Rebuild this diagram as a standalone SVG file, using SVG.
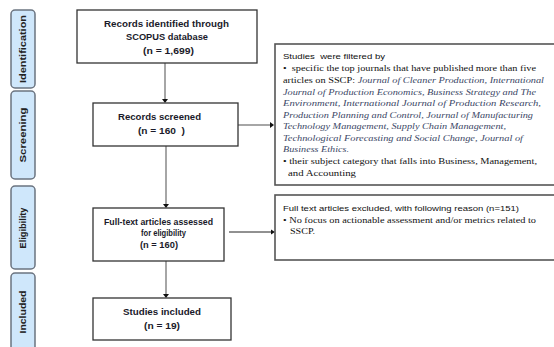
<svg xmlns="http://www.w3.org/2000/svg" width="554" height="347" viewBox="0 0 554 347">
<defs>
<style>
.bar{fill:#cfe7fb;stroke:#6b7480;stroke-width:1.5}
.bl{font-family:"Liberation Sans",Arial,sans-serif;font-weight:bold;font-size:8.5px;fill:#222;text-anchor:middle}
.box{fill:#fff;stroke:#333;stroke-width:1.3}
.rbox{fill:#fff;stroke:#555;stroke-width:1.6}
.t{font-family:"Liberation Sans",Arial,sans-serif;font-weight:bold;font-size:8.5px;fill:#1a1a2a;text-anchor:middle}
.s{font-family:"Liberation Serif","Times New Roman",serif;font-size:8.5px;fill:#111}
.i{font-style:italic;fill:#3b4766}
.ss{font-family:"Liberation Sans",Arial,sans-serif;font-size:7.5px;fill:#111}
.g{stroke:#a6a6a6;stroke-width:2;fill:none}
.k{stroke:#222;stroke-width:1;fill:none}
</style>
</defs>

<g id="phase-identification"><rect class="bar" x="11" y="10" width="24" height="78" rx="4"/><text class="bl" transform="translate(26,49) rotate(-90)" textLength="68" lengthAdjust="spacingAndGlyphs">Identification</text></g>
<g id="phase-screening"><rect class="bar" x="11" y="91" width="24" height="88" rx="4"/><text class="bl" transform="translate(26,135) rotate(-90)" textLength="55" lengthAdjust="spacingAndGlyphs">Screening</text></g>
<g id="phase-eligibility"><rect class="bar" x="11" y="186" width="24" height="83" rx="4"/><text class="bl" transform="translate(26,228) rotate(-90)" textLength="41" lengthAdjust="spacingAndGlyphs">Eligibility</text></g>
<g id="phase-included"><rect class="bar" x="11" y="273" width="24" height="80" rx="4"/><text class="bl" transform="translate(26,312) rotate(-90)" textLength="43" lengthAdjust="spacingAndGlyphs">Included</text></g>

<g id="connectors">
<line class="g" x1="165" y1="63" x2="165" y2="99"/><path d="M162,99L168,99L165,103z" fill="#111"/>
<line class="g" x1="166" y1="146" x2="166" y2="204"/><path d="M163,204L169,204L166,208z" fill="#111"/>
<line class="g" x1="166" y1="261" x2="166" y2="294"/><path d="M163,294L169,294L166,298z" fill="#111"/>
<line class="g" x1="238" y1="125" x2="270" y2="125"/><path d="M270,122L270,128L274,125z" fill="#111"/>
<line class="k" x1="229" y1="232" x2="271" y2="232"/><path d="M271,229.5L271,234.5L275,232z" fill="#111"/>
</g>

<g id="records-identified"><rect class="box" x="77" y="10" width="180" height="53"/>
<text class="t" x="166.5" y="27" textLength="125" lengthAdjust="spacingAndGlyphs">Records identified through</text>
<text class="t" x="167" y="40" textLength="82" lengthAdjust="spacingAndGlyphs">SCOPUS database</text>
<text class="t" x="168.5" y="54" textLength="51" lengthAdjust="spacingAndGlyphs">(n = 1,699)</text></g>

<g id="records-screened"><rect class="box" x="93" y="103" width="145" height="43"/>
<text class="t" x="159.5" y="120" textLength="83" lengthAdjust="spacingAndGlyphs">Records screened</text>
<text class="t" x="161.5" y="134" textLength="47" lengthAdjust="spacingAndGlyphs">(n = 160&#160;&#160;)</text></g>

<g id="full-text"><rect class="box" x="93" y="208" width="131" height="53"/>
<text class="t" x="158.5" y="225" textLength="109" lengthAdjust="spacingAndGlyphs">Full-text articles assessed</text>
<text class="t" x="163.5" y="236" textLength="45" lengthAdjust="spacingAndGlyphs">for eligibility</text>
<text class="t" x="159" y="248" textLength="38" lengthAdjust="spacingAndGlyphs">(n = 160)</text></g>

<g id="studies-included"><rect class="box" x="93" y="298" width="138" height="42"/>
<text class="t" x="162" y="315" textLength="78" lengthAdjust="spacingAndGlyphs">Studies included</text>
<text class="t" x="162" y="329" textLength="36" lengthAdjust="spacingAndGlyphs">(n = 19)</text></g>

<g id="filter-box"><rect class="rbox" x="275" y="44" width="290" height="141"/>
<text class="ss" x="283" y="59" textLength="102" lengthAdjust="spacingAndGlyphs">Studies&#160; were filtered by</text>
<text class="s" x="283" y="71" textLength="253" lengthAdjust="spacingAndGlyphs">•&#160; specific the top journals that have published more than five</text>
<text class="s" x="283" y="83" textLength="261" lengthAdjust="spacingAndGlyphs">articles on SSCP: <tspan class="i">Journal of Cleaner Production, International</tspan></text>
<text class="s i" x="283" y="94.5" textLength="253" lengthAdjust="spacingAndGlyphs">Journal of Production Economics, Business Strategy and The</text>
<text class="s i" x="283" y="106" textLength="258" lengthAdjust="spacingAndGlyphs">Environment, International Journal of Production Research,</text>
<text class="s i" x="283" y="117.5" textLength="250" lengthAdjust="spacingAndGlyphs">Production Planning and Control, Journal of Manufacturing</text>
<text class="s i" x="283" y="129" textLength="223" lengthAdjust="spacingAndGlyphs">Technology Management, Supply Chain Management,</text>
<text class="s i" x="283" y="140.5" textLength="240" lengthAdjust="spacingAndGlyphs">Technological Forecasting and Social Change, Journal of</text>
<text class="s i" x="283" y="152" textLength="66" lengthAdjust="spacingAndGlyphs">Business Ethics.</text>
<text class="s" x="283" y="164" textLength="254" lengthAdjust="spacingAndGlyphs">• their subject category that falls into Business, Management,</text>
<text class="s" x="288" y="176" textLength="68" lengthAdjust="spacingAndGlyphs">and Accounting</text></g>

<g id="excluded-box"><rect class="rbox" x="275" y="195" width="290" height="65"/>
<text class="ss" x="283" y="211" textLength="236" lengthAdjust="spacingAndGlyphs">Full text articles excluded, with following reason (n=151)</text>
<text class="s" x="283" y="223" textLength="253" lengthAdjust="spacingAndGlyphs">• No focus on actionable assessment and/or metrics related to</text>
<text class="s" x="290" y="234" textLength="25" lengthAdjust="spacingAndGlyphs">SSCP.</text></g>
</svg>
